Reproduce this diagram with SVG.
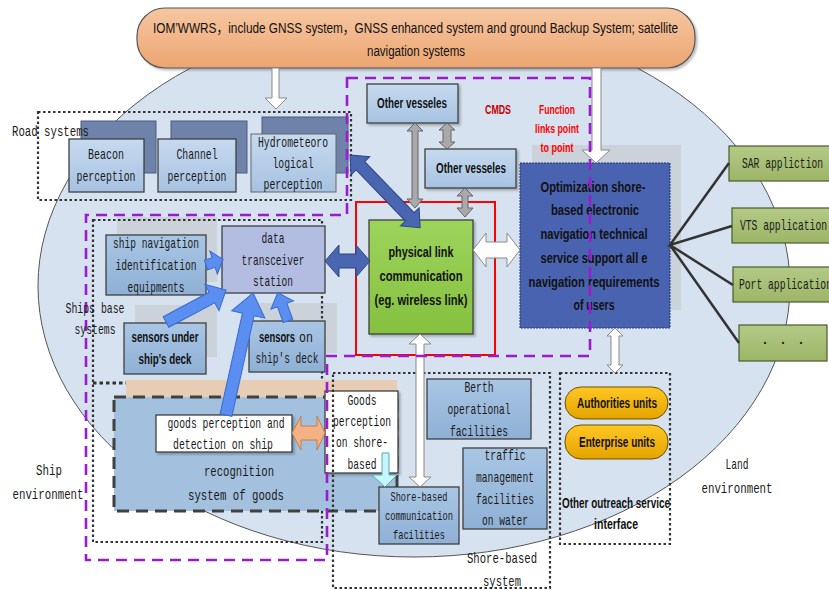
<svg xmlns="http://www.w3.org/2000/svg" width="829" height="590" viewBox="0 0 829 590">
<defs>
<linearGradient id="gOr" x1="0" y1="0" x2="0" y2="1"><stop offset="0" stop-color="#f6c7a1"/><stop offset="1" stop-color="#eca571"/></linearGradient>
<linearGradient id="gLb" x1="0" y1="0" x2="0" y2="1"><stop offset="0" stop-color="#c6daef"/><stop offset="1" stop-color="#a6c2e1"/></linearGradient>
<linearGradient id="gMb" x1="0" y1="0" x2="0" y2="1"><stop offset="0" stop-color="#a9c6e4"/><stop offset="1" stop-color="#8fb0d5"/></linearGradient>
<linearGradient id="gGr" x1="0" y1="0" x2="0" y2="1"><stop offset="0" stop-color="#9dd45c"/><stop offset="1" stop-color="#85c03f"/></linearGradient>
<linearGradient id="gYe" x1="0" y1="0" x2="0" y2="1"><stop offset="0" stop-color="#ffc722"/><stop offset="1" stop-color="#e5a400"/></linearGradient>
<linearGradient id="gOl" x1="0" y1="0" x2="0" y2="1"><stop offset="0" stop-color="#b3ca86"/><stop offset="1" stop-color="#9cb566"/></linearGradient>
<filter id="sh" x="-10%" y="-10%" width="130%" height="130%"><feDropShadow dx="2" dy="2" stdDeviation="1.2" flood-color="#000" flood-opacity="0.25"/></filter>
<style>
.m{font-family:"Liberation Mono","DejaVu Sans Mono",monospace;font-size:15px;fill:#1a1a1a}
.b{font-family:"Liberation Sans Narrow","Liberation Sans",Arial,sans-serif;font-weight:bold;font-size:14px;fill:#111}
.c{font-family:"Liberation Sans Narrow","Liberation Sans",Arial,"Noto Sans CJK SC",sans-serif;font-size:15.5px;fill:#111}
.mid{text-anchor:middle}
.dot{fill:none;stroke:#333;stroke-width:2.2;stroke-dasharray:2.5 2.5}
.pur{fill:none;stroke:#9a1ccf;stroke-width:2.6;stroke-dasharray:11 7}
.box{stroke:#3f3f3f;stroke-width:1.3}
.wa{fill:#fff;stroke:#8a8a8a;stroke-width:1}
.ga{fill:#a9a9a9;stroke:#666;stroke-width:1}
.ba{fill:#5a8ef0;stroke:#3a6ad0;stroke-width:1}
.da{fill:#4a66b0;stroke:#2c4585;stroke-width:1}
.shd{fill:#ccd2da}
.ln{stroke:#333;stroke-width:2.5;fill:none}
</style>
</defs>
<rect width="829" height="590" fill="#fff"/>

<g id="background">
<ellipse cx="414" cy="286" rx="376" ry="271" fill="#d6e2ef" stroke="#555" stroke-width="1"/>
</g>

<g id="top-source">
<rect x="137" y="8" width="558" height="60" rx="28" fill="url(#gOr)" stroke="#555" stroke-width="1.2" filter="url(#sh)"/>
<text class="c mid" x="415.5" y="33" textLength="525" lengthAdjust="spacingAndGlyphs">IOM’WWRS，include GNSS system，GNSS enhanced system and ground Backup System; satellite</text>
<text class="c mid" x="416" y="56" textLength="98" lengthAdjust="spacingAndGlyphs">navigation systems</text>
</g>

<g id="beacon">
<rect x="81" y="121" width="75" height="52" fill="#6f83aa" stroke="#4a5a80"/>
<rect class="box" x="69" y="139" width="75" height="53" fill="url(#gLb)"/>
<text class="m mid" x="106" y="159" textLength="36" lengthAdjust="spacingAndGlyphs">Beacon</text>
<text class="m mid" x="106" y="181" textLength="59" lengthAdjust="spacingAndGlyphs">perception</text>
</g>
<g id="channel">
<rect x="171" y="121" width="76" height="52" fill="#6f83aa" stroke="#4a5a80"/>
<rect class="box" x="158" y="139" width="78" height="53" fill="url(#gLb)"/>
<text class="m mid" x="197" y="159" textLength="41" lengthAdjust="spacingAndGlyphs">Channel</text>
<text class="m mid" x="197" y="181" textLength="59" lengthAdjust="spacingAndGlyphs">perception</text>
</g>
<g id="hydrometeorological">
<rect x="262" y="117" width="86" height="56" fill="#6f83aa" stroke="#4a5a80"/>
<rect x="251" y="134" width="85" height="58" fill="url(#gLb)" stroke="#666" stroke-width="1"/>
<text class="m mid" x="293" y="147" textLength="70" lengthAdjust="spacingAndGlyphs">Hydrometeoro</text>
<text class="m mid" x="293" y="168" textLength="41" lengthAdjust="spacingAndGlyphs">logical</text>
<text class="m mid" x="293" y="189" textLength="59" lengthAdjust="spacingAndGlyphs">perception</text>
</g>
<g id="road-systems">
<rect class="dot" x="38" y="112" width="313" height="88"/>
<text class="m" x="12" y="136" textLength="77" lengthAdjust="spacingAndGlyphs">Road systems</text>
</g>

<g id="ships-base-systems">
<rect class="shd" x="117" y="217" width="100" height="65"/>
<rect class="shd" x="135" y="305" width="82" height="52"/>
<rect class="shd" x="260" y="303" width="77" height="50"/>
<rect class="dot" x="93" y="220" width="229" height="322"/>
<line x1="93" y1="383" x2="322" y2="383" stroke="#333" stroke-width="3.2" stroke-dasharray="3.5 3"/>
</g>
<g id="ship-navigation">
<rect class="box" x="106" y="235" width="100" height="60" fill="url(#gMb)"/>
<text class="m mid" x="156" y="248" textLength="86" lengthAdjust="spacingAndGlyphs">ship navigation</text>
<text class="m mid" x="156" y="270" textLength="81" lengthAdjust="spacingAndGlyphs">identification</text>
<text class="m mid" x="156" y="292" textLength="57" lengthAdjust="spacingAndGlyphs">equipments</text>
</g>
<g id="data-transceiver">
<rect class="box" x="222" y="226" width="103" height="67" fill="#b3bde2"/>
<text class="m mid" x="273" y="243" textLength="23" lengthAdjust="spacingAndGlyphs">data</text>
<text class="m mid" x="273" y="265" textLength="63" lengthAdjust="spacingAndGlyphs">transceiver</text>
<text class="m mid" x="273" y="286" textLength="40" lengthAdjust="spacingAndGlyphs">station</text>
</g>
<g id="sensors-under">
<rect class="box" x="124" y="323" width="82" height="51" fill="url(#gMb)"/>
<text class="b mid" x="165" y="342" textLength="67" lengthAdjust="spacingAndGlyphs">sensors under</text>
<text class="b mid" x="165" y="364" textLength="53" lengthAdjust="spacingAndGlyphs">ship's deck</text>
</g>
<g id="sensors-on">
<rect class="box" x="249" y="321" width="76" height="51" fill="url(#gMb)"/>
<text class="b" x="259" y="342" textLength="36" lengthAdjust="spacingAndGlyphs">sensors</text>
<text class="m" x="299" y="342" textLength="14" lengthAdjust="spacingAndGlyphs">on</text>
<text class="m mid" x="287" y="363" textLength="63" lengthAdjust="spacingAndGlyphs">ship's deck</text>
</g>

<g id="goods-recognition">
<rect x="126" y="380" width="271" height="40" fill="#e7cdb4"/>
<rect x="114" y="397" width="283" height="114" fill="#a3c1de" stroke="#404040" stroke-width="3" stroke-dasharray="12 7"/>
<text class="m mid" x="239" y="476" textLength="70" lengthAdjust="spacingAndGlyphs">recognition</text>
<text class="m mid" x="236" y="500" textLength="96" lengthAdjust="spacingAndGlyphs">system of goods</text>
</g>
<g id="goods-on-ship">
<rect class="box" x="156" y="415" width="136" height="37" fill="#fff" filter="url(#sh)"/>
<text class="m mid" x="226" y="428" textLength="117" lengthAdjust="spacingAndGlyphs">goods perception and</text>
<text class="m mid" x="223" y="449" textLength="100" lengthAdjust="spacingAndGlyphs">detection on ship</text>
</g>
<g id="goods-on-shore">
<rect class="box" x="325" y="391" width="73" height="82" fill="#fff" filter="url(#sh)"/>
<text class="m mid" x="362" y="405" textLength="29" lengthAdjust="spacingAndGlyphs">Goods</text>
<text class="m mid" x="362" y="426" textLength="58" lengthAdjust="spacingAndGlyphs">perception</text>
<text class="m mid" x="362" y="447" textLength="52" lengthAdjust="spacingAndGlyphs">on shore-</text>
<text class="m mid" x="362" y="469" textLength="29" lengthAdjust="spacingAndGlyphs">based</text>
</g>
<g id="ship-environment">
<text class="m mid" x="49" y="475" textLength="26" lengthAdjust="spacingAndGlyphs">Ship</text>
<text class="m mid" x="48" y="499" textLength="71" lengthAdjust="spacingAndGlyphs">environment</text>
</g>

<g id="shore-based-system">
<rect class="dot" x="333" y="373" width="217" height="215"/>
<text class="m mid" x="502" y="563" textLength="70" lengthAdjust="spacingAndGlyphs">Shore-based</text>
<text class="m mid" x="502" y="586" textLength="38" lengthAdjust="spacingAndGlyphs">system</text>
</g>
<g id="berth">
<rect class="box" x="427" y="379" width="104" height="60" fill="url(#gMb)"/>
<text class="m mid" x="479" y="392" textLength="29" lengthAdjust="spacingAndGlyphs">Berth</text>
<text class="m mid" x="479" y="414" textLength="63" lengthAdjust="spacingAndGlyphs">operational</text>
<text class="m mid" x="479" y="436" textLength="58" lengthAdjust="spacingAndGlyphs">facilities</text>
</g>
<g id="traffic-management">
<rect class="box" x="463" y="448" width="84" height="81" fill="url(#gMb)"/>
<text class="m mid" x="505" y="460" textLength="41" lengthAdjust="spacingAndGlyphs">traffic</text>
<text class="m mid" x="505" y="482" textLength="58" lengthAdjust="spacingAndGlyphs">management</text>
<text class="m mid" x="505" y="504" textLength="58" lengthAdjust="spacingAndGlyphs">facilities</text>
<text class="m mid" x="505" y="525" textLength="46" lengthAdjust="spacingAndGlyphs">on water</text>
</g>
<g id="shore-communication">
<rect class="box" x="379" y="487" width="80" height="57" fill="url(#gMb)"/>
<text class="m mid" x="419" y="501" textLength="57" lengthAdjust="spacingAndGlyphs" style="font-size:13px">Shore-based</text>
<text class="m mid" x="419" y="520" textLength="68" lengthAdjust="spacingAndGlyphs" style="font-size:13px">communication</text>
<text class="m mid" x="419" y="539" textLength="52" lengthAdjust="spacingAndGlyphs" style="font-size:13px">facilities</text>
</g>

<g id="outreach-interface">
<rect class="dot" x="560" y="373" width="110" height="171"/>
<text class="b mid" x="616" y="508" textLength="108" lengthAdjust="spacingAndGlyphs">Other outreach service</text>
<text class="b mid" x="616" y="529" textLength="44" lengthAdjust="spacingAndGlyphs">interface</text>
</g>
<g id="authorities">
<rect x="565" y="387" width="103" height="32" rx="16" fill="url(#gYe)" stroke="#6b5200" stroke-width="1"/>
<text class="b mid" x="617" y="408" textLength="80" lengthAdjust="spacingAndGlyphs">Authorities units</text>
</g>
<g id="enterprise">
<rect x="565" y="425" width="103" height="34" rx="16" fill="url(#gYe)" stroke="#6b5200" stroke-width="1"/>
<text class="b mid" x="617" y="447" textLength="76" lengthAdjust="spacingAndGlyphs">Enterprise units</text>
</g>
<g id="land-environment">
<text class="m mid" x="737" y="469" textLength="23" lengthAdjust="spacingAndGlyphs">Land</text>
<text class="m mid" x="737" y="493" textLength="71" lengthAdjust="spacingAndGlyphs">environment</text>
</g>

<g id="other-vesseles-1">
<rect class="box" x="367" y="84" width="91" height="39" fill="url(#gLb)" filter="url(#sh)"/>
<text class="b mid" x="412" y="108" textLength="70" lengthAdjust="spacingAndGlyphs">Other vesseles</text>
</g>
<g id="other-vesseles-2">
<rect class="box" x="425" y="149" width="91" height="39" fill="url(#gLb)" filter="url(#sh)"/>
<text class="b mid" x="471" y="173" textLength="70" lengthAdjust="spacingAndGlyphs">Other vesseles</text>
</g>

<g id="physical-link">
<rect x="356" y="202" width="139" height="153" fill="none" stroke="#ff0000" stroke-width="2"/>
<rect class="box" x="369" y="220" width="104" height="114" fill="url(#gGr)" filter="url(#sh)"/>
<text class="b mid" x="421" y="257" textLength="65" lengthAdjust="spacingAndGlyphs">physical link</text>
<text class="b mid" x="421" y="281" textLength="83" lengthAdjust="spacingAndGlyphs">communication</text>
<text class="b mid" x="421" y="305" textLength="93" lengthAdjust="spacingAndGlyphs">(eg. wireless link)</text>
</g>

<g id="optimization">
<rect class="shd" x="532" y="145" width="149" height="165"/>
<rect x="520" y="163" width="150" height="165" fill="#4a63b0" stroke="#23356e" stroke-width="1" stroke-dasharray="2 1"/>
<g style="font-size:15px">
<text class="b mid" x="593" y="192" textLength="105" lengthAdjust="spacingAndGlyphs">Optimization shore-</text>
<text class="b mid" x="595" y="215" textLength="88" lengthAdjust="spacingAndGlyphs">based electronic</text>
<text class="b mid" x="594" y="239" textLength="107" lengthAdjust="spacingAndGlyphs">navigation technical</text>
<text class="b mid" x="594" y="263" textLength="107" lengthAdjust="spacingAndGlyphs">service support all e</text>
<text class="b mid" x="594" y="287" textLength="131" lengthAdjust="spacingAndGlyphs">navigation requirements</text>
<text class="b mid" x="594" y="310" textLength="41" lengthAdjust="spacingAndGlyphs">of users</text>
</g>
</g>

<g id="cmds-labels">
<text class="b mid" x="498" y="114" textLength="26" lengthAdjust="spacingAndGlyphs" style="fill:#c00000;font-size:12px">CMDS</text>
<text class="b mid" x="557" y="114" textLength="36" lengthAdjust="spacingAndGlyphs" style="fill:#ff0000;font-size:12px">Function</text>
<text class="b mid" x="557" y="133" textLength="44" lengthAdjust="spacingAndGlyphs" style="fill:#ff0000;font-size:12px">links point</text>
<text class="b mid" x="557" y="152" textLength="33" lengthAdjust="spacingAndGlyphs" style="fill:#ff0000;font-size:12px">to point</text>
</g>

<g id="sar">
<rect x="729" y="146" width="101" height="35" fill="url(#gOl)" stroke="#4b5a2c" stroke-width="1.2"/>
<text class="m" x="742" y="168" textLength="81" lengthAdjust="spacingAndGlyphs">SAR appliction</text>
</g>
<g id="vts">
<rect x="732" y="208" width="98" height="35" fill="url(#gOl)" stroke="#4b5a2c" stroke-width="1.2"/>
<text class="m" x="740" y="230" textLength="87" lengthAdjust="spacingAndGlyphs">VTS application</text>
</g>
<g id="port">
<rect x="733" y="267" width="97" height="35" fill="url(#gOl)" stroke="#4b5a2c" stroke-width="1.2"/>
<text class="m" x="739" y="289" textLength="93" lengthAdjust="spacingAndGlyphs">Port application</text>
</g>
<g id="more">
<rect x="739" y="325" width="88" height="36" fill="url(#gOl)" stroke="#4b5a2c" stroke-width="1.2"/>
<text class="m mid" x="783" y="347">· · ·</text>
</g>

<g id="connectors">
<polyline class="ln" points="729,163 670,245 732,226"/>
<polyline class="ln" points="733,285 670,245 739,343"/>
<polygon class="wa" points="272,68 279,68 279,98 287,98 276,109 265,98 272,98"/>
<polygon class="wa" points="592,68 601,68 601,150 610,150 596,163 582,150 592,150"/>
<polygon class="wa" points="473,250 486,233 486,242 507,242 507,233 520,250 507,267 507,258 486,258 486,267"/>
<polygon class="wa" points="420,334 431,344 424,344 424,477 431,477 420,487 409,477 416,477 416,344 409,344"/>
<polygon class="wa" points="615,328 623,336 619,336 619,365 623,365 615,373 607,365 611,365 611,336 607,336"/>
<polygon class="ga" points="415,123 423,131 418,131 418,199 423,199 415,208 407,199 412,199 412,131 407,131"/>
<polygon class="ga" points="447,123 455,130 451,130 451,142 455,142 447,149 439,142 443,142 443,130 439,130"/>
<polygon class="ga" points="465,188 473,196 468,196 468,208 473,208 465,217 457,208 462,208 462,196 457,196"/>
<polygon class="da" transform="translate(350,155) rotate(46)" points="0,0 15,-13 15,-6 86,-6 86,-13 101,0 86,13 86,6 15,6 15,13"/>
<polygon class="da" points="325,261 339,245 339,254 356,254 356,245 370,261 356,277 356,268 339,268 339,277"/>
<polygon class="ba" transform="translate(206,265) rotate(-18)" points="0,-5 8,-5 8,-12 18,0 8,12 8,5 0,5"/>
<polygon class="ba" transform="translate(166,322) rotate(-28)" points="0,-6 52,-6 52,-15 68,0 52,15 52,6 0,6"/>
<polygon class="ba" transform="translate(226,415) rotate(-77.5)" points="0,-6 103,-6 103,-17 125,0 103,17 103,6 0,6"/>
<polygon class="ba" transform="translate(288,321) rotate(-110)" points="0,-5 17,-5 17,-12 30,0 17,12 17,5 0,5"/>
<polygon points="292,433 301,416 301,426 317,426 317,416 325,433 317,450 317,440 301,440 301,450" fill="#f4b183" stroke="#c0804e" stroke-width="1"/>
<polygon points="382,453 389,453 389,475 397,475 385,487 372,475 382,475" fill="#c4f6fb" stroke="#5aa9b5" stroke-width="1"/>
</g>

<g id="cmds-boundary">
<path class="pur" d="M347,78 H590 V356 H327 V560 H86 V215 H347 Z"/>
</g>

<g id="ships-base-label">
<text class="m mid" x="95" y="313" textLength="59" lengthAdjust="spacingAndGlyphs">Ships base</text>
<text class="m mid" x="95" y="334" textLength="41" lengthAdjust="spacingAndGlyphs">systems</text>
</g>
</svg>
